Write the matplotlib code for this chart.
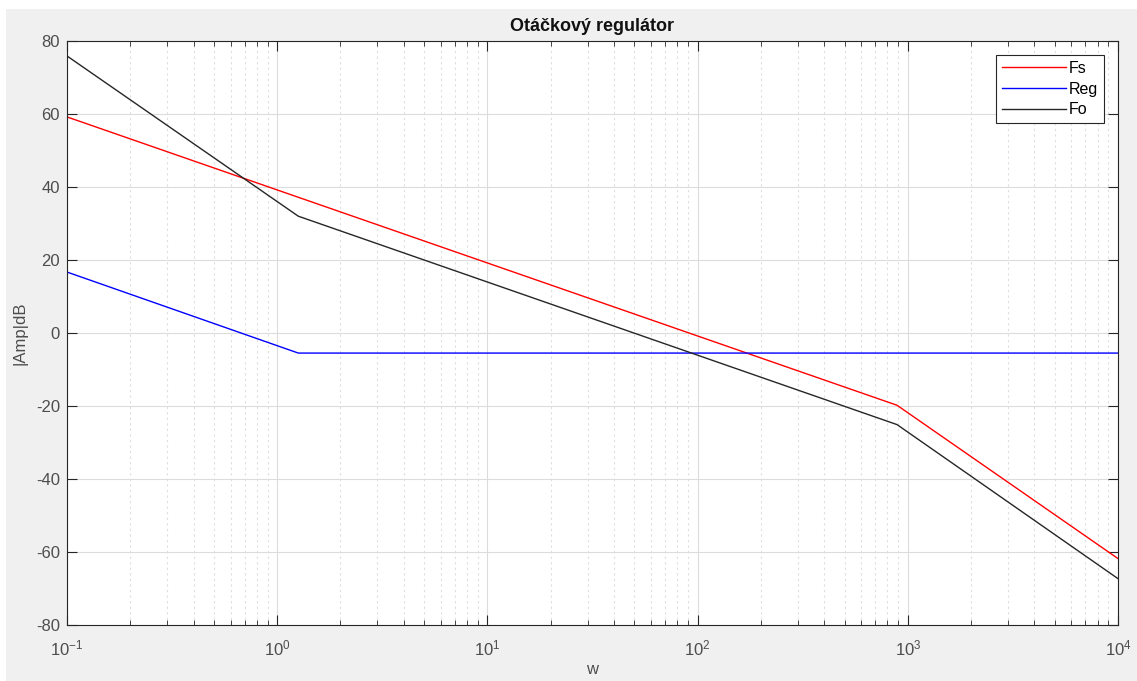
import matplotlib
matplotlib.use("Agg")
import matplotlib.pyplot as plt
from matplotlib.patches import Rectangle
from matplotlib.ticker import LogLocator, FixedLocator

# asymptotic Bode breakpoints
w_fs = [0.1, 889, 10000]
db_fs = [59.2, -19.8, -61.8]

w_reg = [0.1, 1.26, 10000]
db_reg = [16.7, -5.5, -5.5]

w_fo = [0.1, 1.26, 889, 10000]
db_fo = [75.9, 32.0, -25.1, -67.3]

y_ticks = [-80, -60, -40, -20, 0, 20, 40, 60, 80]

plt.rcParams['font.family'] = ['Liberation Sans', 'DejaVu Sans']
plt.rcParams['axes.unicode_minus'] = False

fig = plt.figure(figsize=(11.37, 6.81), dpi=100, facecolor='white')
fig.patches.append(Rectangle((6 / 1137, 0), 1, (681 - 9) / 681, transform=fig.transFigure,
                             facecolor='#f0f0f0', edgecolor='none', zorder=-10))
ax = fig.add_axes([67 / 1137, 56 / 681, (1118 - 67) / 1137, (625 - 41) / 681])

ax.semilogx(w_fs, db_fs, color='#ff0000', lw=1, label='Fs')
ax.semilogx(w_reg, db_reg, color='#0000ff', lw=1, label='Reg')
ax.semilogx(w_fo, db_fo, color='#262626', lw=1, label='Fo')

ax.set_xlim(0.1, 10000)
ax.set_ylim(-80, 80)
ax.yaxis.set_major_locator(FixedLocator(y_ticks))
ax.xaxis.set_major_locator(LogLocator(base=10, numticks=10))
ax.xaxis.set_minor_locator(LogLocator(base=10, subs=range(2, 10), numticks=20))

ax.grid(True, which='major', color='#dcdcdc', lw=0.8)
ax.grid(True, which='minor', axis='x', color='#dedede', lw=0.8, ls=(0, (2, 3)))
ax.set_axisbelow(True)

ax.tick_params(which='both', direction='in', top=True, right=True, colors='#262626',
               labelcolor='#4d4d4d', labelsize=12)
ax.tick_params(which='major', length=7)
ax.tick_params(which='minor', length=3.6)
ax.tick_params(axis='y', pad=5)
ax.tick_params(axis='x', pad=10)
for s in ax.spines.values():
    s.set_color('#262626')
    s.set_linewidth(0.8)

ax.set_title('Otáčkový regulátor', fontsize=13, fontweight='bold', color='#111111', pad=7)
ax.set_xlabel('w', fontsize=12, color='#4d4d4d', labelpad=2)
ax.set_ylabel('|Amp|dB', fontsize=12, color='#4d4d4d', labelpad=6)

leg = ax.legend(loc='upper right', fontsize=11.5, handlelength=4.0, handletextpad=0.2,
                borderaxespad=0.9, borderpad=0.35, fancybox=False, framealpha=1,
                labelspacing=0.35)
leg.get_frame().set_edgecolor('#262626')
leg.get_frame().set_linewidth(0.8)

fig.savefig('out.png', dpi=100, facecolor=fig.get_facecolor())
